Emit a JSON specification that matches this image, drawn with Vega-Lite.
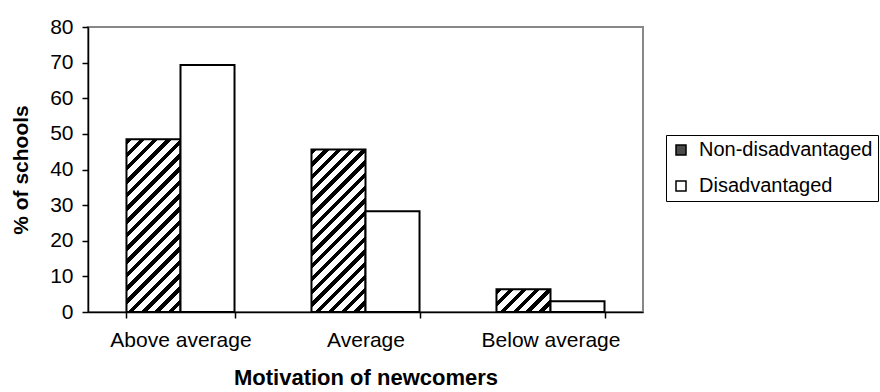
{
  "$schema": "https://vega.github.io/schema/vega-lite/v6.json",
  "width": 555,
  "height": 285,
  "autosize": {"type": "none"},
  "padding": {"left": 88, "top": 27, "right": 237, "bottom": 80},
  "background": "white",
  "data": {
    "values": [
      {"cat": "Above average", "group": "Non-disadvantaged", "value": 48.5},
      {"cat": "Above average", "group": "Disadvantaged", "value": 69.3},
      {"cat": "Average", "group": "Non-disadvantaged", "value": 45.6},
      {"cat": "Average", "group": "Disadvantaged", "value": 28.3},
      {"cat": "Below  average", "group": "Non-disadvantaged", "value": 6.4},
      {"cat": "Below  average", "group": "Disadvantaged", "value": 3.0}
    ]
  },
  "mark": {"type": "bar", "stroke": "#000000", "strokeWidth": 2},
  "encoding": {
    "x": {
      "field": "cat",
      "type": "nominal",
      "sort": ["Above average", "Average", "Below  average"],
      "scale": {"paddingInner": 0.416, "paddingOuter": 0.208},
      "axis": {
        "title": "Motivation of newcomers",
        "labelAngle": 0,
        "tickBand": "extent",
        "tickSize": 6,
        "labelPadding": 11,
        "labelFontSize": 21,
        "titleFontSize": 22,
        "titleFontWeight": "bold",
        "titlePadding": 17
      }
    },
    "xOffset": {
      "field": "group",
      "type": "nominal",
      "sort": ["Non-disadvantaged", "Disadvantaged"],
      "scale": {"paddingInner": 0, "paddingOuter": 0}
    },
    "y": {
      "field": "value",
      "type": "quantitative",
      "scale": {"domain": [0, 80], "nice": false},
      "axis": {
        "title": "% of schools",
        "values": [0, 10, 20, 30, 40, 50, 60, 70, 80],
        "grid": false,
        "tickSize": 6,
        "labelPadding": 9,
        "labelFontSize": 21,
        "titleFontSize": 21,
        "titleFontWeight": "bold",
        "titlePadding": 18
      }
    },
    "fill": {
      "condition": [
        {
          "test": "datum.group === 'Non-disadvantaged' && datum.cat === 'Above average'",
          "value": {
            "gradient": "linear", "x1": 0, "y1": 0, "x2": 0.37366, "y2": 1.19573,
            "stops": [
              {"offset": 0, "color": "#000000"}, {"offset": 0.024706, "color": "#000000"}, {"offset": 0.024706, "color": "#ffffff"}, {"offset": 0.058824, "color": "#ffffff"},
              {"offset": 0.058824, "color": "#000000"}, {"offset": 0.083529, "color": "#000000"}, {"offset": 0.083529, "color": "#ffffff"}, {"offset": 0.117647, "color": "#ffffff"},
              {"offset": 0.117647, "color": "#000000"}, {"offset": 0.142353, "color": "#000000"}, {"offset": 0.142353, "color": "#ffffff"}, {"offset": 0.176471, "color": "#ffffff"},
              {"offset": 0.176471, "color": "#000000"}, {"offset": 0.201176, "color": "#000000"}, {"offset": 0.201176, "color": "#ffffff"}, {"offset": 0.235294, "color": "#ffffff"},
              {"offset": 0.235294, "color": "#000000"}, {"offset": 0.26, "color": "#000000"}, {"offset": 0.26, "color": "#ffffff"}, {"offset": 0.294118, "color": "#ffffff"},
              {"offset": 0.294118, "color": "#000000"}, {"offset": 0.318824, "color": "#000000"}, {"offset": 0.318824, "color": "#ffffff"}, {"offset": 0.352941, "color": "#ffffff"},
              {"offset": 0.352941, "color": "#000000"}, {"offset": 0.377647, "color": "#000000"}, {"offset": 0.377647, "color": "#ffffff"}, {"offset": 0.411765, "color": "#ffffff"},
              {"offset": 0.411765, "color": "#000000"}, {"offset": 0.436471, "color": "#000000"}, {"offset": 0.436471, "color": "#ffffff"}, {"offset": 0.470588, "color": "#ffffff"},
              {"offset": 0.470588, "color": "#000000"}, {"offset": 0.495294, "color": "#000000"}, {"offset": 0.495294, "color": "#ffffff"}, {"offset": 0.529412, "color": "#ffffff"},
              {"offset": 0.529412, "color": "#000000"}, {"offset": 0.554118, "color": "#000000"}, {"offset": 0.554118, "color": "#ffffff"}, {"offset": 0.588235, "color": "#ffffff"},
              {"offset": 0.588235, "color": "#000000"}, {"offset": 0.612941, "color": "#000000"}, {"offset": 0.612941, "color": "#ffffff"}, {"offset": 0.647059, "color": "#ffffff"},
              {"offset": 0.647059, "color": "#000000"}, {"offset": 0.671765, "color": "#000000"}, {"offset": 0.671765, "color": "#ffffff"}, {"offset": 0.705882, "color": "#ffffff"},
              {"offset": 0.705882, "color": "#000000"}, {"offset": 0.730588, "color": "#000000"}, {"offset": 0.730588, "color": "#ffffff"}, {"offset": 0.764706, "color": "#ffffff"},
              {"offset": 0.764706, "color": "#000000"}, {"offset": 0.789412, "color": "#000000"}, {"offset": 0.789412, "color": "#ffffff"}, {"offset": 0.823529, "color": "#ffffff"},
              {"offset": 0.823529, "color": "#000000"}, {"offset": 0.848235, "color": "#000000"}, {"offset": 0.848235, "color": "#ffffff"}, {"offset": 0.882353, "color": "#ffffff"},
              {"offset": 0.882353, "color": "#000000"}, {"offset": 0.907059, "color": "#000000"}, {"offset": 0.907059, "color": "#ffffff"}, {"offset": 0.941176, "color": "#ffffff"},
              {"offset": 0.941176, "color": "#000000"}, {"offset": 0.965882, "color": "#000000"}, {"offset": 0.965882, "color": "#ffffff"}, {"offset": 1, "color": "#ffffff"}
            ]
          }
        },
        {
          "test": "datum.group === 'Non-disadvantaged' && datum.cat === 'Average'",
          "value": {
            "gradient": "linear", "x1": 0, "y1": 0, "x2": 0.39884, "y2": 1.19984,
            "stops": [
              {"offset": 0, "color": "#000000"}, {"offset": 0.024706, "color": "#000000"}, {"offset": 0.024706, "color": "#ffffff"}, {"offset": 0.058824, "color": "#ffffff"},
              {"offset": 0.058824, "color": "#000000"}, {"offset": 0.083529, "color": "#000000"}, {"offset": 0.083529, "color": "#ffffff"}, {"offset": 0.117647, "color": "#ffffff"},
              {"offset": 0.117647, "color": "#000000"}, {"offset": 0.142353, "color": "#000000"}, {"offset": 0.142353, "color": "#ffffff"}, {"offset": 0.176471, "color": "#ffffff"},
              {"offset": 0.176471, "color": "#000000"}, {"offset": 0.201176, "color": "#000000"}, {"offset": 0.201176, "color": "#ffffff"}, {"offset": 0.235294, "color": "#ffffff"},
              {"offset": 0.235294, "color": "#000000"}, {"offset": 0.26, "color": "#000000"}, {"offset": 0.26, "color": "#ffffff"}, {"offset": 0.294118, "color": "#ffffff"},
              {"offset": 0.294118, "color": "#000000"}, {"offset": 0.318824, "color": "#000000"}, {"offset": 0.318824, "color": "#ffffff"}, {"offset": 0.352941, "color": "#ffffff"},
              {"offset": 0.352941, "color": "#000000"}, {"offset": 0.377647, "color": "#000000"}, {"offset": 0.377647, "color": "#ffffff"}, {"offset": 0.411765, "color": "#ffffff"},
              {"offset": 0.411765, "color": "#000000"}, {"offset": 0.436471, "color": "#000000"}, {"offset": 0.436471, "color": "#ffffff"}, {"offset": 0.470588, "color": "#ffffff"},
              {"offset": 0.470588, "color": "#000000"}, {"offset": 0.495294, "color": "#000000"}, {"offset": 0.495294, "color": "#ffffff"}, {"offset": 0.529412, "color": "#ffffff"},
              {"offset": 0.529412, "color": "#000000"}, {"offset": 0.554118, "color": "#000000"}, {"offset": 0.554118, "color": "#ffffff"}, {"offset": 0.588235, "color": "#ffffff"},
              {"offset": 0.588235, "color": "#000000"}, {"offset": 0.612941, "color": "#000000"}, {"offset": 0.612941, "color": "#ffffff"}, {"offset": 0.647059, "color": "#ffffff"},
              {"offset": 0.647059, "color": "#000000"}, {"offset": 0.671765, "color": "#000000"}, {"offset": 0.671765, "color": "#ffffff"}, {"offset": 0.705882, "color": "#ffffff"},
              {"offset": 0.705882, "color": "#000000"}, {"offset": 0.730588, "color": "#000000"}, {"offset": 0.730588, "color": "#ffffff"}, {"offset": 0.764706, "color": "#ffffff"},
              {"offset": 0.764706, "color": "#000000"}, {"offset": 0.789412, "color": "#000000"}, {"offset": 0.789412, "color": "#ffffff"}, {"offset": 0.823529, "color": "#ffffff"},
              {"offset": 0.823529, "color": "#000000"}, {"offset": 0.848235, "color": "#000000"}, {"offset": 0.848235, "color": "#ffffff"}, {"offset": 0.882353, "color": "#ffffff"},
              {"offset": 0.882353, "color": "#000000"}, {"offset": 0.907059, "color": "#000000"}, {"offset": 0.907059, "color": "#ffffff"}, {"offset": 0.941176, "color": "#ffffff"},
              {"offset": 0.941176, "color": "#000000"}, {"offset": 0.965882, "color": "#000000"}, {"offset": 0.965882, "color": "#ffffff"}, {"offset": 1, "color": "#ffffff"}
            ]
          }
        },
        {
          "test": "datum.group === 'Non-disadvantaged' && datum.cat === 'Below  average'",
          "value": {
            "gradient": "linear", "x1": 0, "y1": 0, "x2": 1.20703, "y2": 0.50963,
            "stops": [
              {"offset": 0, "color": "#000000"}, {"offset": 0.07, "color": "#000000"}, {"offset": 0.07, "color": "#ffffff"}, {"offset": 0.166667, "color": "#ffffff"},
              {"offset": 0.166667, "color": "#000000"}, {"offset": 0.236667, "color": "#000000"}, {"offset": 0.236667, "color": "#ffffff"}, {"offset": 0.333333, "color": "#ffffff"},
              {"offset": 0.333333, "color": "#000000"}, {"offset": 0.403333, "color": "#000000"}, {"offset": 0.403333, "color": "#ffffff"}, {"offset": 0.5, "color": "#ffffff"},
              {"offset": 0.5, "color": "#000000"}, {"offset": 0.57, "color": "#000000"}, {"offset": 0.57, "color": "#ffffff"}, {"offset": 0.666667, "color": "#ffffff"},
              {"offset": 0.666667, "color": "#000000"}, {"offset": 0.736667, "color": "#000000"}, {"offset": 0.736667, "color": "#ffffff"}, {"offset": 0.833333, "color": "#ffffff"},
              {"offset": 0.833333, "color": "#000000"}, {"offset": 0.903333, "color": "#000000"}, {"offset": 0.903333, "color": "#ffffff"}, {"offset": 1, "color": "#ffffff"}
            ]
          }
        }
      ],
      "field": "group",
      "type": "nominal",
      "scale": {"domain": ["Non-disadvantaged", "Disadvantaged"], "range": ["#4a4a4a", "#ffffff"]},
      "legend": {
        "title": null,
        "orient": "none",
        "legendX": 578,
        "legendY": 108,
        "symbolType": "square",
        "symbolSize": 100,
        "symbolStrokeColor": "#000000",
        "symbolStrokeWidth": 1.5,
        "symbolOpacity": 1,
        "labelFontSize": 20,
        "labelColor": "#000000",
        "labelOffset": 8,
        "labelLimit": 400,
        "rowPadding": 16,
        "padding": 5,
        "strokeColor": "#000000",
        "fillColor": "#ffffff"
      }
    }
  },
  "config": {
    "font": "Liberation Sans",
    "view": {"stroke": "#888888", "strokeWidth": 2},
    "axis": {
      "domainColor": "#000000",
      "domainWidth": 1.5,
      "tickColor": "#000000",
      "tickWidth": 1.5,
      "labelColor": "#000000",
      "titleColor": "#000000",
      "labelFont": "Liberation Sans",
      "titleFont": "Liberation Sans"
    },
    "legend": {"labelFont": "Liberation Sans"}
  }
}
